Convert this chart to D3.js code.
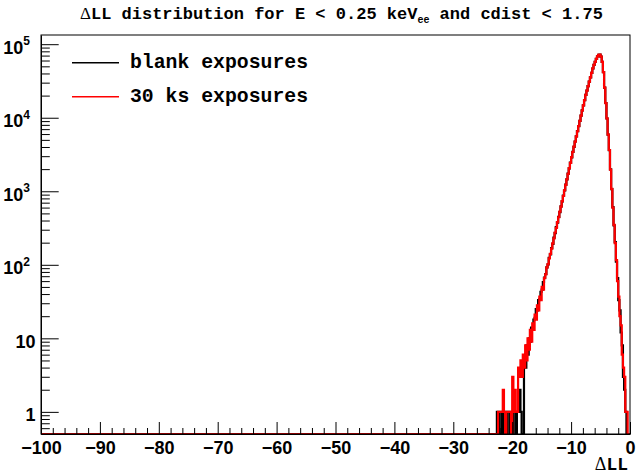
<!DOCTYPE html>
<html>
<head>
<meta charset="utf-8">
<script src="https://cdn.jsdelivr.net/npm/d3@7"></script>
<style>
  html, body { margin: 0; padding: 0; background: #fff; }
  svg { display: block; }
</style>
</head>
<body>
<svg id="chart" width="636" height="474"></svg>
<script>
// ---- data ----
const xRange = [-100, 0];
const binStart = -23;      // first non-empty region (all bins below are empty)
const binWidth = 0.2;
const xTickValues = [-100, -90, -80, -70, -60, -50, -40, -30, -20, -10, 0];
const yTickValues = [1, 10, 100, 1000, 10000, 100000];
const yTickLabels = [["1", ""], ["10", ""], ["10", "2"], ["10", "3"], ["10", "4"], ["10", "5"]];
const seriesNames = ["blank exposures", "30 ks exposures"];
const seriesColors = ["#000000", "#ff0000"];
const blankCounts = [
  0,0,1,1,0,0,1,0,1,1,
  0,1,1,0,1,0,1,1,0,1,
  1,2,1,0,0,5,4,8,6,10,
  9,14,13,18,19,25,24,33,34,43,
  46,58,67,75,92,101,124,139,169,193,
  234,269,325,374,449,522,624,727,870,1025,
  1228,1450,1733,2047,2445,2894,3435,4026,4750,5570,
  6566,7706,9078,10662,12560,14750,17390,20410,23450,26910,
  30910,35470,40750,46760,52490,57530,63110,68390,71910,72390,
  67610,57490,41710,25690,15860,9760,5900,3620,1985,1070,
  608,344,203,110,66,33,24,12,8,3,
  2,1,0,0,0
];
const ksCounts = [
  0,0,0,1,1,1,1,2,1,0,
  1,1,1,1,0,3,1,2,1,1,
  4,3,5,3,6,4,8,5,10,7,
  13,9,16,13,21,18,28,24,37,33,
  50,46,66,74,92,102,122,141,166,196,
  229,275,318,381,443,529,617,734,862,1032,
  1219,1458,1724,2058,2436,2905,3422,4040,4735,5583,
  6552,7720,9062,10678,12541,14770,17370,20430,23430,26930,
  30890,35490,40730,46780,52470,57550,63090,68410,71890,72410,
  67590,57510,41690,25710,15840,9780,5880,3640,1970,1080,
  598,350,197,116,60,37,20,15,6,4,
  3,1,1,0,0
];

// ---- layout ----
const fx0 = 41, fx1 = 630, fy0 = 35, fy1 = 434;
const yMin = 0.5, yMax = 133400;

const svg = d3.select("#chart");
const x = d3.scaleLinear().domain(xRange).range([fx0, fx1]);
const y = d3.scaleLog().domain([yMin, yMax]).range([fy1, fy0]);

const tickFont = "'Liberation Sans', Arial, Helvetica, sans-serif";
const monoFont = "'Liberation Mono', 'Courier New', Courier, monospace";
const symFont = "'Liberation Serif', 'Times New Roman', serif";

// ---- title ----
const title = svg.append("text")
  .attr("x", 80).attr("y", 18.5)
  .attr("font-family", monoFont).attr("font-weight", "bold")
  .attr("font-size", 17).attr("fill", "#000");
title.append("tspan").attr("font-family", symFont).attr("font-weight", "normal").text("Δ");
title.append("tspan").text("LL distribution for E < 0.25 keV");
title.append("tspan").attr("font-size", 10).attr("dy", 4).text("ee");
title.append("tspan").attr("dy", -4).text(" and cdist < 1.75");

// ---- histograms ----
function histPoints(counts) {
  const pts = [[xRange[0], 0]];
  pts.push([binStart, 0]);
  counts.forEach((c, i) => {
    const lo = binStart + i * binWidth;
    pts.push([lo, c]);
    pts.push([lo + binWidth, c]);
  });
  pts.push([xRange[1], counts[counts.length - 1]]);
  return pts;
}
const line = d3.line()
  .x(d => x(d[0]))
  .y(d => y(Math.max(d[1], yMin)));

[blankCounts, ksCounts].forEach((counts, k) => {
  svg.append("path")
    .attr("d", line(histPoints(counts)))
    .attr("fill", "none")
    .attr("stroke", seriesColors[k])
    .attr("stroke-width", 2.2)
    .attr("stroke-linejoin", "miter");
});

// ---- frame ----
svg.append("rect")
  .attr("x", fx0).attr("y", fy0)
  .attr("width", fx1 - fx0).attr("height", fy1 - fy0)
  .attr("fill", "none").attr("stroke", "#000").attr("stroke-width", 1);

// ---- x axis ----
const xMinor = d3.range(-100, 0.001, 2).filter(v => Math.abs(v % 10) > 0.001);
svg.append("g").attr("transform", `translate(0,${fy1})`)
  .call(d3.axisBottom(x).tickValues(xMinor).tickSizeInner(-6).tickSizeOuter(0).tickFormat(""))
  .call(g => g.select(".domain").remove());
const xAx = svg.append("g").attr("transform", `translate(0,${fy1})`)
  .call(d3.axisBottom(x).tickValues(xTickValues).tickSizeInner(-12).tickSizeOuter(0).tickPadding(7.5)
    .tickFormat(d => d === 0 ? "0" : "\u2212" + Math.abs(d)));
xAx.select(".domain").attr("stroke", "#000");
xAx.selectAll("text").attr("font-family", tickFont).attr("font-weight", "bold").attr("font-size", 18).attr("fill", "#000");
xAx.selectAll("line").attr("stroke", "#000");

// ---- y axis ----
const yMinor = [];
[0.1, 1, 10, 100, 1000, 10000].forEach(dec => {
  for (let k = 2; k <= 9; k++) {
    const v = dec * k;
    if (v > yMin && v < yMax) yMinor.push(v);
  }
});
svg.append("g").attr("transform", `translate(${fx0},0)`)
  .call(d3.axisLeft(y).tickValues(yMinor).tickSizeInner(-8.8).tickSizeOuter(0).tickFormat(""))
  .call(g => g.select(".domain").remove());
const yAx = svg.append("g").attr("transform", `translate(${fx0},0)`)
  .call(d3.axisLeft(y).tickValues(yTickValues).tickSizeInner(-17.7).tickSizeOuter(0).tickFormat(""));
yAx.select(".domain").attr("stroke", "#000");
yAx.selectAll("line").attr("stroke", "#000");

yTickValues.forEach((v, i) => {
  const [base, exp] = yTickLabels[i];
  const t = svg.append("text")
    .attr("x", exp ? 30 : 35.5).attr("y", y(v) + 9.5)
    .attr("text-anchor", "end")
    .attr("font-family", tickFont).attr("font-weight", "bold")
    .attr("font-size", 18).attr("fill", "#000");
  t.append("tspan").text(base);
  if (exp) {
    t.append("tspan").attr("font-size", 12).attr("dy", -8.5).text(exp);
  }
});

// ---- x axis title ----
const xt = svg.append("text")
  .attr("x", 628).attr("y", 469.5)
  .attr("text-anchor", "end")
  .attr("font-family", monoFont).attr("font-weight", "bold")
  .attr("font-size", 18).attr("fill", "#000");
xt.append("tspan").attr("font-family", symFont).attr("font-weight", "normal").text("Δ");
xt.append("tspan").text("LL");

// ---- legend ----
const legY = [62.7, 96.7];
seriesNames.forEach((name, i) => {
  svg.append("line")
    .attr("x1", 72).attr("x2", 119)
    .attr("y1", legY[i]).attr("y2", legY[i])
    .attr("stroke", seriesColors[i]).attr("stroke-width", 1.5);
  svg.append("text")
    .attr("x", 130).attr("y", legY[i] + 5)
    .attr("font-family", monoFont).attr("font-weight", "bold")
    .attr("font-size", 19.8).attr("fill", "#000")
    .text(name);
});
</script>
</body>
</html>
